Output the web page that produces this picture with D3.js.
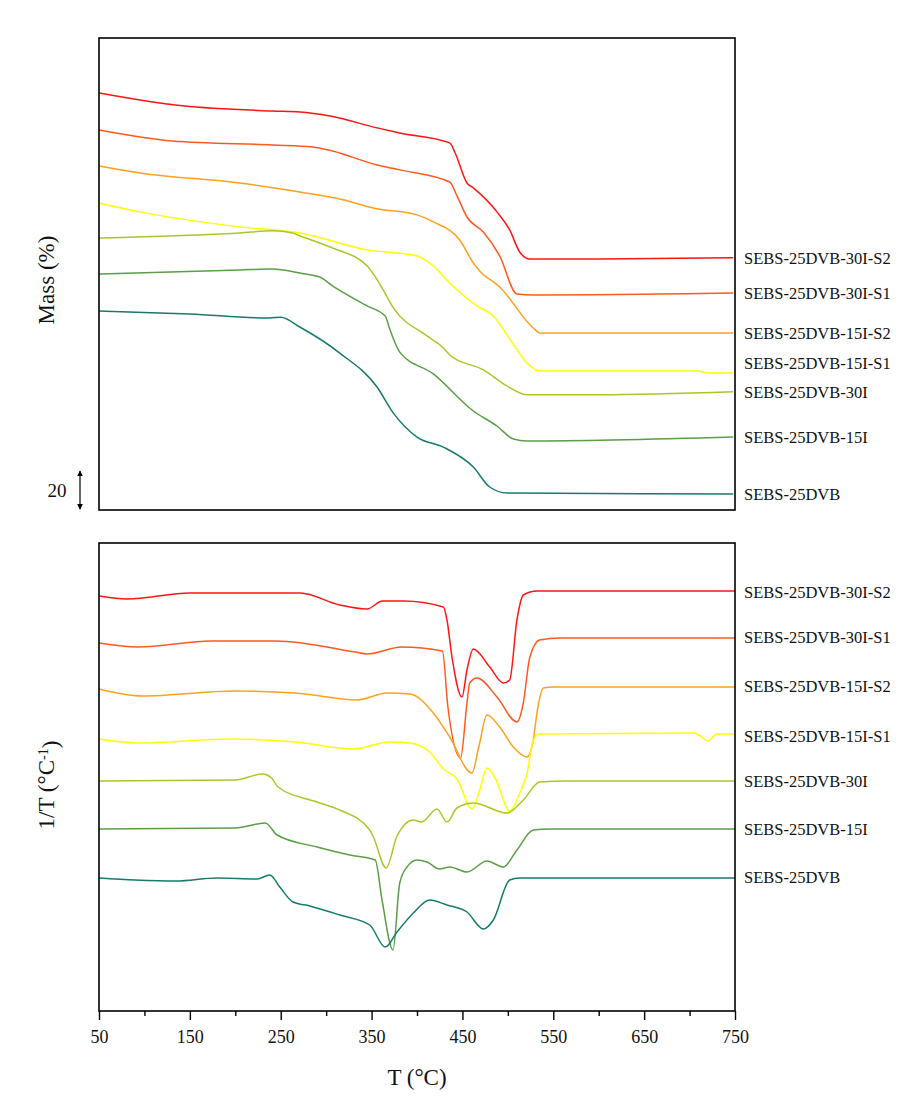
<!DOCTYPE html>
<html>
<head>
<meta charset="utf-8">
<script src="https://cdn.jsdelivr.net/npm/d3@7"></script>
<style>
  body { margin: 0; background: #fff; }
  text { font-family: "Liberation Serif", "Times New Roman", serif; fill: #111; }
</style>
</head>
<body>
<svg id="chart" width="899" height="1097"></svg>
<script>
// sample names, top to bottom
const names = ["SEBS-25DVB-30I-S2", "SEBS-25DVB-30I-S1", "SEBS-25DVB-15I-S2", "SEBS-25DVB-15I-S1",
               "SEBS-25DVB-30I", "SEBS-25DVB-15I", "SEBS-25DVB"];
const colors = ["#ff1414", "#ff5a1e", "#ffa01e", "#ffff00", "#a8c828", "#5a9e46", "#167a6c"];

// TGA: mass (%) vs T (°C), curves shifted up by massOffset
const massOffset = [119.5, 100, 81.1, 61.6, 43.2, 24.2, 4.7];
const mass30S2 = [[50,100],[142,93.2],[241,90.5],[271,90],[304,87.9],[356,81.6],[381,78.9],[436,73.7],[442,68.4],[455,52.6],[462,50],[488,37.4],[502,27.9],[513,16.3],[524,12.6],[601,12.6],[748,13.2]];
const mass30S1 = [[50,100],[131,94.2],[241,92.1],[285,91.1],[307,88.9],[356,81.6],[381,79],[436,72.6],[444,65.3],[455,54.2],[473,46.3],[491,33.7],[510,13.7],[528,13.2],[748,14.2]];
const mass15S2 = [[50,100],[95,96.3],[205,91],[271,86.3],[315,82.6],[356,77.4],[400,74.2],[418,70.5],[447,61],[462,48.9],[469,44.7],[491,36.3],[528,14.7],[535,12.1],[748,12.1]];
const mass15S1 = [[50,100],[95,95.3],[205,87.4],[271,84.2],[345,75.3],[400,72.1],[418,66.8],[436,57.9],[466,45.8],[484,40.5],[502,28.4],[521,15.8],[535,11.6],[711,11.6],[719,10.5],[748,10.5]];
const mass30 = [[50,100],[205,102.6],[241,103.7],[263,102.6],[271,101.1],[307,94.7],[345,85.3],[359,75.8],[374,63.2],[411,48.4],[429,42.1],[436,38.4],[473,30.5],[499,22.1],[521,17.4],[601,17.4],[748,19]];
const mass15 = [[50,100],[205,102.1],[241,102.6],[271,100.5],[293,98.4],[307,93.7],[345,83.2],[365,77.9],[370,71],[381,58.9],[418,47.4],[462,27.9],[488,20],[506,13.2],[521,12.1],[748,14.2]];
const mass0 = [[50,100],[150,98.4],[238,96.3],[250,96.8],[271,91.6],[315,77.9],[356,60],[374,46.3],[400,33.7],[429,28.4],[462,17.9],[480,7.4],[499,4.2],[748,3.7]];
const massCurves = [mass30S2, mass30S1, mass15S2, mass15S1, mass30, mass15, mass0];

// DTG signal (a.u.) vs T (°C), curves shifted up by dtgOffset
const dtgOffset = [42.0, 37.3, 32.4, 27.7, 23.0, 18.2, 13.3];
const dtg30S2 = [[50,-0.5],[81,-0.8],[150,-0.2],[271,-0.2],[315,-1.4],[345,-1.8],[362,-1.0],[385,-1.0],[429,-1.6],[433,-2.9],[438.5,-6.6],[449.5,-10.6],[455,-7.9],[462,-5.8],[480,-7.6],[495,-9.2],[502,-8.9],[510,-2.9],[517,-0.4],[532,0],[750,0]];
const dtg30S1 = [[50,-0.5],[93,-0.9],[174,-0.3],[244,-0.3],[332,-1.4],[345,-1.6],[383,-0.9],[428,-1.3],[434,-6.9],[448,-12.0],[455,-6.5],[458,-4.5],[466,-4.0],[488,-5.9],[510,-8.4],[517,-6.5],[524,-2.0],[535,-0.2],[557,0],[750,0]];
const dtg15S2 = [[50,-0.2],[97,-0.9],[200,-0.4],[266,-0.6],[334,-1.3],[367,-0.6],[392,-0.7],[418,-2.6],[436,-5.0],[460.5,-8.6],[468,-6.0],[477,-2.8],[491,-4.0],[506,-6.0],[521,-7.0],[528,-5.3],[532,-2.6],[539,-0.1],[550,0],[750,0]];
const dtg15S1 = [[50,-0.5],[93,-0.9],[196,-0.5],[266,-0.8],[330,-1.5],[370,-0.8],[392,-0.9],[414,-1.8],[429,-3.5],[444,-4.5],[460.5,-7.5],[469,-5.6],[477,-3.4],[486,-4.4],[502,-7.7],[513,-5.9],[521,-4.0],[528,-0.6],[535,0],[704,0.1],[712,-0.2],[720,-0.7],[730,0],[750,0]];
const dtg30 = [[50,0],[200,0.1],[230,0.7],[240,0.3],[247,-0.6],[290,-2.1],[315,-2.9],[348,-4.9],[352,-5.6],[366,-8.7],[378,-5.5],[396,-3.9],[405,-4.1],[422,-2.8],[433,-4.1],[444,-2.7],[462,-2.2],[499,-3.2],[517,-1.9],[535,-0.1],[565,0],[750,0]];
const dtg15 = [[50,0],[200,0.1],[233,0.6],[246,-0.6],[290,-1.8],[326,-2.6],[354,-3.1],[361.5,-7.1],[373.6,-12.1],[381,-5.4],[389,-3.8],[400,-3.1],[411,-3.3],[425,-4.0],[436,-3.8],[455,-4.3],[477,-3.2],[495,-3.8],[510,-2.1],[528,-0.1],[546,0],[750,0]];
const dtg0 = [[50,0],[90,-0.2],[135,-0.3],[180,0],[224,-0.1],[238,0.3],[249,-0.9],[263.5,-2.4],[282,-2.8],[315,-3.7],[348,-4.7],[365,-6.9],[378,-5.4],[396,-3.5],[414,-2.2],[433,-2.7],[455,-3.4],[473,-5.1],[484,-4.2],[502,-0.2],[513,0],[750,0]];
const dtgCurves = [dtg30S2, dtg30S1, dtg15S2, dtg15S1, dtg30, dtg15, dtg0];

const xTicks = [50, 150, 250, 350, 450, 550, 650, 750];
const xMinor = [100, 200, 300, 400, 500, 600, 700];
const scaleBar = 20; // % mass

const svg = d3.select("#chart");
const left = 99, right = 735;
const top1 = 38, bottom1 = 510;
const top2 = 543, bottom2 = 1011;

const x = d3.scaleLinear().domain([50, 750]).range([left, right]);
const yMass = d3.scaleLinear().domain([0, 248.4]).range([bottom1, top1]);
const yDtg = d3.scaleLinear().domain([0, 46.8]).range([bottom2, top2]);

function drawPanel(curves, offsets, y, labelNudge) {
    const line = d3.line()
        .curve(d3.curveMonotoneX)
        .x(d => x(d[0]));
    curves.forEach((c, i) => {
        svg.append("path")
            .attr("d", line.y(d => y(d[1] + offsets[i]))(c))
            .attr("fill", "none")
            .attr("stroke", colors[i])
            .attr("stroke-width", 1.5);
        const last = c[c.length - 1];
        svg.append("text")
            .attr("x", right + 9)
            .attr("y", y(last[1] + offsets[i]) + (labelNudge[i] || 0))
            .attr("dy", "0.35em")
            .style("font-size", "16.5px")
            .text(names[i]);
    });
}

drawPanel(massCurves, massOffset, yMass, [0, 0, 0, -10, 0, 0, 0]);
drawPanel(dtgCurves, dtgOffset, yDtg, [1, -1, -1, 2, 0, 0, -1]);

// frames
[[top1, bottom1], [top2, bottom2]].forEach(p => {
    svg.append("rect")
        .attr("x", left).attr("y", p[0])
        .attr("width", right - left).attr("height", p[1] - p[0])
        .attr("fill", "none").attr("stroke", "#000").attr("stroke-width", 1.6);
});

// x axis on bottom panel
const axis = svg.append("g")
    .attr("transform", "translate(0," + bottom2 + ")")
    .call(d3.axisBottom(x).tickValues(xTicks).tickSize(9).tickSizeOuter(0));
axis.select(".domain").remove();
axis.selectAll("line").attr("stroke", "#000").attr("stroke-width", 1.4);
axis.selectAll("text")
    .attr("y", 19)
    .style("font-size", "18px")
    .style("font-family", "Liberation Serif");

const minor = svg.append("g")
    .attr("transform", "translate(0," + bottom2 + ")")
    .call(d3.axisBottom(x).tickValues(xMinor).tickSize(5).tickFormat(""));
minor.select(".domain").remove();
minor.selectAll("line").attr("stroke", "#000").attr("stroke-width", 1.4);

// axis titles
svg.append("text")
    .attr("x", (left + right) / 2)
    .attr("y", 1085)
    .attr("text-anchor", "middle")
    .style("font-size", "23px")
    .text("T (°C)");

svg.append("text")
    .attr("transform", "translate(54," + ((top1 + bottom1) / 2 + 6) + ") rotate(-90)")
    .attr("text-anchor", "middle")
    .style("font-size", "23px")
    .text("Mass (%)");

const dtgTitle = svg.append("text")
    .attr("transform", "translate(54," + ((top2 + bottom2) / 2 + 8) + ") rotate(-90)")
    .attr("text-anchor", "middle")
    .style("font-size", "23px");
dtgTitle.append("tspan").text("1/T (°C");
dtgTitle.append("tspan").attr("dy", "-0.45em").style("font-size", "14px").text("-1");
dtgTitle.append("tspan").attr("dy", "0.45em").text(")");

// 20 % scale bar
const defs = svg.append("defs");
defs.append("marker")
    .attr("id", "head")
    .attr("viewBox", "0 0 10 10")
    .attr("refX", 9).attr("refY", 5)
    .attr("markerWidth", 6).attr("markerHeight", 6)
    .attr("markerUnits", "userSpaceOnUse")
    .attr("orient", "auto-start-reverse")
    .append("path")
    .attr("d", "M0,0 L10,5 L0,10 z")
    .attr("fill", "#000");

svg.append("line")
    .attr("x1", 80).attr("x2", 80)
    .attr("y1", yMass(0.5)).attr("y2", yMass(0.5 + scaleBar))
    .attr("stroke", "#000").attr("stroke-width", 1.2)
    .attr("marker-start", "url(#head)")
    .attr("marker-end", "url(#head)");

svg.append("text")
    .attr("x", 57)
    .attr("y", yMass(0.5 + scaleBar / 2))
    .attr("dy", "0.35em")
    .attr("text-anchor", "middle")
    .style("font-size", "19px")
    .text(scaleBar);
</script>
</body>
</html>
